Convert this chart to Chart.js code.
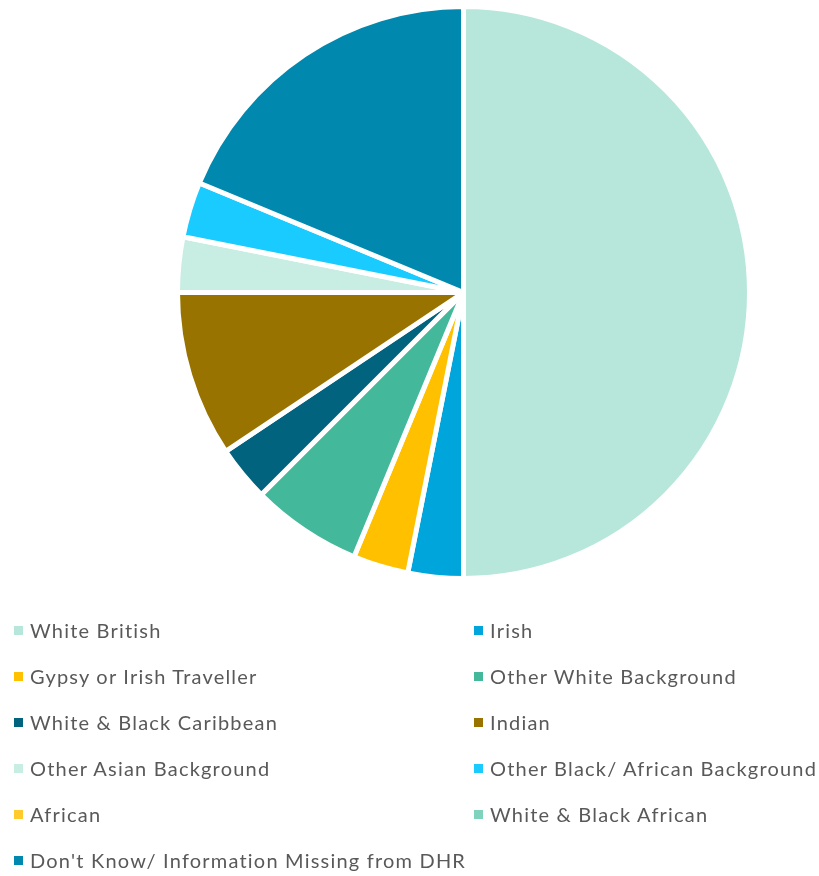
<!DOCTYPE html>
<html>
<head>
<meta charset="utf-8">
<script src="https://cdn.jsdelivr.net/npm/chart.js@4.4.1/dist/chart.umd.min.js"></script>
<style>
  html, body { margin: 0; padding: 0; background: #fff; }
  body { width: 819px; height: 876px; position: relative; overflow: hidden; }
  #wrap { position: absolute; left: 175px; top: 4px; width: 577px; height: 577px; }
  #legend { position: absolute; left: 0; top: 0; width: 819px; height: 876px;
            font-family: "Lato", "Open Sans", sans-serif; font-size: 20px; color: #595959;
            letter-spacing: 1.2px; }
  .item { position: absolute; white-space: nowrap; line-height: 20px; }
  .sw { position: absolute; width: 9px; height: 9px; top: 6px; }
  .tx { position: absolute; left: 16px; top: 0; }
</style>
</head>
<body>
<div id="wrap"><canvas id="c"></canvas></div>
<div id="legend"></div>
<script>
const categories = [
  "White British", "Irish", "Gypsy or Irish Traveller", "Other White Background",
  "White & Black Caribbean", "Indian", "Other Asian Background",
  "Other Black/ African Background", "African", "White & Black African",
  "Don't Know/ Information Missing from DHR"
];
const counts = [16, 1, 1, 2, 1, 3, 1, 1, 0, 0, 6];
const colors = [
  "#B7E6DB", "#00A5DB", "#FFC000", "#43B89A", "#02637E", "#997300",
  "#C8EDE3", "#1ACBFF", "#FFCA2B", "#7FD2BC", "#0088AE"
];

new Chart(document.getElementById("c"), {
  type: "pie",
  data: {
    labels: categories,
    datasets: [{
      data: counts,
      backgroundColor: colors,
      borderColor: "#ffffff",
      borderWidth: 5
    }]
  },
  options: {
    responsive: true,
    maintainAspectRatio: false,
    animation: false,
    layout: { padding: 0 },
    plugins: { legend: { display: false }, tooltip: { enabled: false } }
  }
});

// Two-column legend built from the arrays
const legend = document.getElementById("legend");
categories.forEach((name, i) => {
  const col = i % 2, row = Math.floor(i / 2);
  const it = document.createElement("div");
  it.className = "item";
  it.style.left = (col === 0 ? 14 : 474) + "px";
  it.style.top = (620 + row * 46) + "px";
  const sw = document.createElement("div");
  sw.className = "sw";
  sw.style.background = colors[i];
  const tx = document.createElement("div");
  tx.className = "tx";
  tx.textContent = name;
  it.appendChild(sw); it.appendChild(tx);
  legend.appendChild(it);
});
</script>
</body>
</html>
